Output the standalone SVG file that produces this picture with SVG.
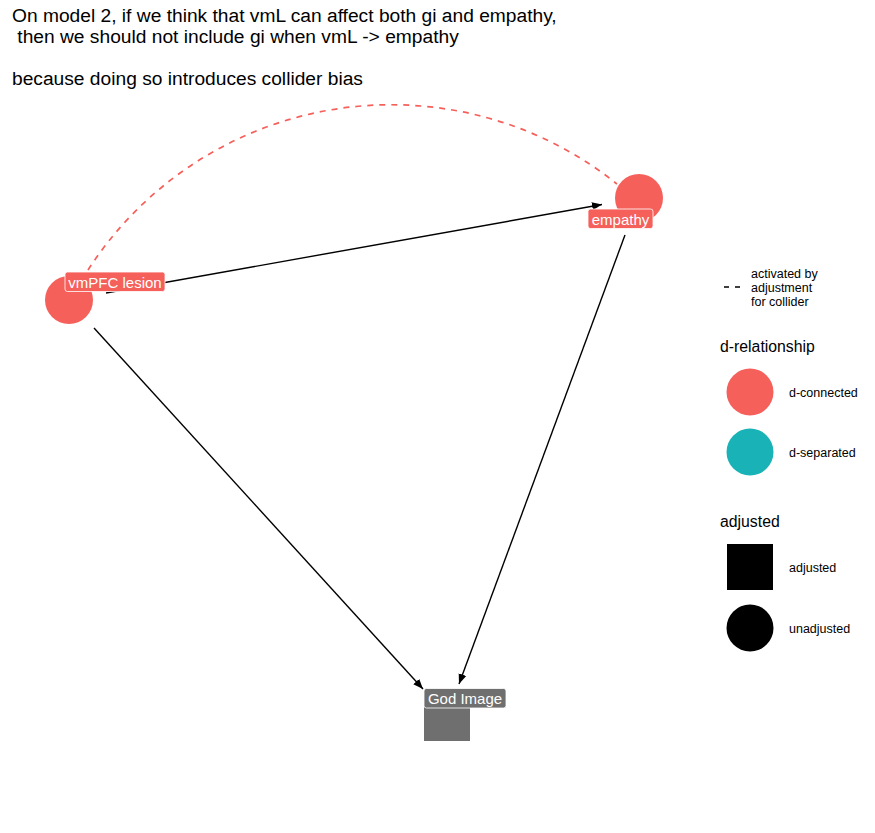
<svg xmlns="http://www.w3.org/2000/svg" width="875" height="833" viewBox="0 0 875 833">
<defs>
<style>
text{font-family:"Liberation Sans",Arial,sans-serif;}
.title{font-size:19.2px;fill:#000;}
.lbl{font-size:15px;fill:#fff;text-anchor:middle;}
.leg{font-size:12.5px;fill:#000;}
.legt{font-size:15.8px;fill:#000;}
.edge{stroke:#000;stroke-width:1.4;fill:none;marker-end:url(#ah);}
.red{fill:#F5605B;}
.teal{fill:#19B3B7;}
.box{stroke:#fff;stroke-width:0.8;}
</style>
<marker id="ah" viewBox="0 0 10 10" refX="10" refY="5" markerWidth="10" markerHeight="10" markerUnits="userSpaceOnUse" orient="auto">
<path d="M0,1 L10,5 L0,9 Z" fill="#000"/>
</marker>
</defs>
<rect width="875" height="833" fill="#fff"/>
<g id="title">
<text class="title" x="12" y="22">On model 2, if we think that vmL can affect both gi and empathy,</text>
<text class="title" x="12" y="43" xml:space="preserve"> then we should not include gi when vmL -&gt; empathy</text>
<text class="title" x="12" y="85">because doing so introduces collider bias</text>
</g>
<g id="connectors">
<path d="M88 270 A361 361 0 0 1 617 184" fill="none" stroke="#F5605B" stroke-width="1.7" stroke-dasharray="6 6"/>
<line class="edge" x1="106" y1="293" x2="602" y2="204.5"/>
<line class="edge" x1="94" y1="328" x2="423" y2="689"/>
<line class="edge" x1="625" y1="235" x2="459" y2="684"/>
</g>
<g id="node-vmPFC">
<circle class="red" cx="69" cy="300" r="24"/>
<rect class="red box" x="65" y="272" width="100" height="19.5" rx="2.5"/>
<text class="lbl" x="115" y="287.5">vmPFC lesion</text>
</g>
<g id="node-empathy">
<circle class="red" cx="639" cy="198" r="24"/>
<rect class="red box" x="588" y="209" width="65" height="19.5" rx="2.5"/>
<text class="lbl" x="620.5" y="224.5">empathy</text>
</g>
<g id="node-godimage">
<rect x="424" y="695" width="46" height="46" fill="#6F6F6F"/>
<rect class="box" x="424" y="688.5" width="82" height="19.5" rx="2.5" fill="#6F6F6F"/>
<text class="lbl" x="465" y="704">God Image</text>
</g>
<g id="legend">
<line x1="724" y1="287" x2="740" y2="287" stroke="#000" stroke-width="1.7" stroke-dasharray="5 6"/>
<text class="leg" x="751" y="278">activated by</text>
<text class="leg" x="751" y="292">adjustment</text>
<text class="leg" x="751" y="306">for collider</text>
<text class="legt" x="720" y="352">d-relationship</text>
<circle class="red" cx="750" cy="392" r="23.5"/>
<text class="leg" x="789" y="397">d-connected</text>
<circle class="teal" cx="750" cy="452" r="23.5"/>
<text class="leg" x="789" y="457">d-separated</text>
<text class="legt" x="720" y="527">adjusted</text>
<rect x="727" y="544" width="46" height="46" fill="#000"/>
<text class="leg" x="789" y="572">adjusted</text>
<circle cx="750" cy="628" r="23.5" fill="#000"/>
<text class="leg" x="789" y="633">unadjusted</text>
</g>
</svg>
